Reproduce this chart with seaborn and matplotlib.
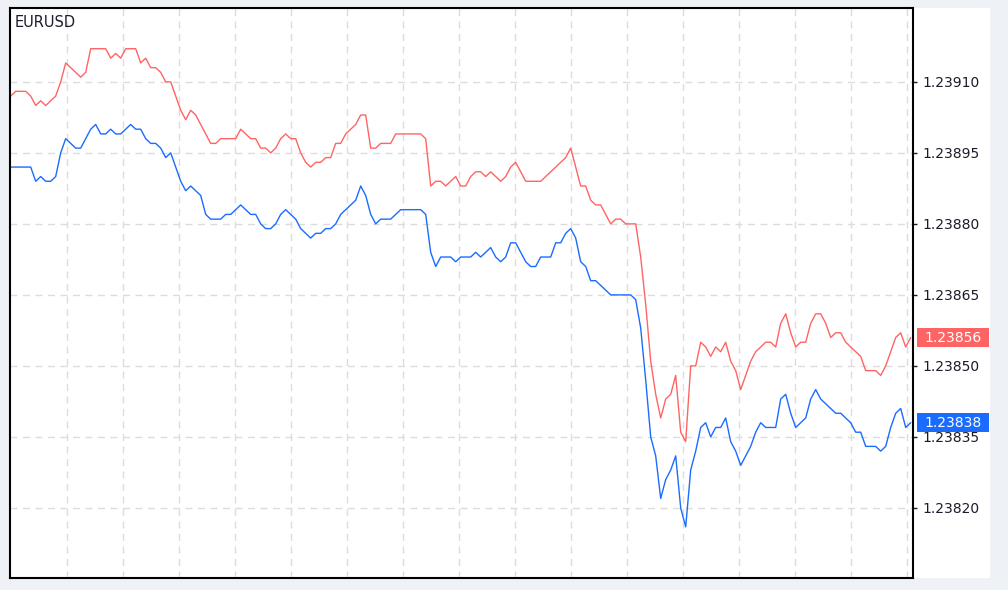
import matplotlib
matplotlib.use("Agg")
import matplotlib.pyplot as plt
import matplotlib.transforms as mtransforms
from matplotlib.patches import Rectangle
import numpy as np
import seaborn as sns

# =============================================================================
# Data: EURUSD tick chart, ask (red) and bid (blue) prices
# =============================================================================

SYMBOL = "EURUSD"

ask = [
    1.23907, 1.23908, 1.23908, 1.23908, 1.23907, 1.23905, 1.23906, 1.23905, 1.23906, 1.23907,
    1.23910, 1.23914, 1.23913, 1.23912, 1.23911, 1.23912, 1.23917, 1.23917, 1.23917, 1.23917,
    1.23915, 1.23916, 1.23915, 1.23917, 1.23917, 1.23917, 1.23914, 1.23915, 1.23913, 1.23913,
    1.23912,
    1.23910, 1.23910, 1.23907, 1.23904, 1.23902, 1.23904, 1.23903, 1.23901, 1.23899, 1.23897,
    1.23897, 1.23898, 1.23898, 1.23898, 1.23898, 1.23900, 1.23899, 1.23898, 1.23898, 1.23896,
    1.23896, 1.23895, 1.23896, 1.23898, 1.23899, 1.23898, 1.23898, 1.23895, 1.23893, 1.23892,
    1.23893, 1.23893, 1.23894, 1.23894, 1.23897, 1.23897, 1.23899, 1.23900, 1.23901, 1.23903,
    1.23903, 1.23896, 1.23896, 1.23897, 1.23897, 1.23897, 1.23899, 1.23899, 1.23899, 1.23899,
    1.23899, 1.23899, 1.23898, 1.23888, 1.23889, 1.23889, 1.23888, 1.23889, 1.23890, 1.23888,
    1.23888, 1.23890, 1.23891, 1.23891, 1.23890, 1.23891, 1.23890, 1.23889, 1.23890, 1.23892,
    1.23893, 1.23891, 1.23889, 1.23889, 1.23889, 1.23889, 1.23890, 1.23891, 1.23892, 1.23893,
    1.23894, 1.23896, 1.23892, 1.23888, 1.23888, 1.23885, 1.23884, 1.23884, 1.23882, 1.23880,
    1.23881, 1.23881, 1.23880, 1.23880, 1.23880, 1.23873, 1.23863, 1.23851, 1.23844, 1.23839,
    1.23843, 1.23844, 1.23848, 1.23836, 1.23834, 1.23850, 1.23850, 1.23855, 1.23854, 1.23852,
    1.23854, 1.23853, 1.23855, 1.23851, 1.23849, 1.23845, 1.23848, 1.23851, 1.23853, 1.23854,
    1.23855, 1.23855, 1.23854, 1.23859, 1.23861, 1.23857, 1.23854, 1.23855, 1.23855, 1.23859,
    1.23861, 1.23861, 1.23859, 1.23856, 1.23857, 1.23857, 1.23855, 1.23854, 1.23853, 1.23852,
    1.23849, 1.23849, 1.23849, 1.23848, 1.23850, 1.23853, 1.23856, 1.23857, 1.23854, 1.23856,
]

bid = [
    1.23892, 1.23892, 1.23892, 1.23892, 1.23892, 1.23889, 1.23890, 1.23889, 1.23889, 1.23890,
    1.23895, 1.23898, 1.23897, 1.23896, 1.23896, 1.23898, 1.23900, 1.23901, 1.23899, 1.23899,
    1.23900, 1.23899, 1.23899, 1.23900, 1.23901, 1.23900, 1.23900, 1.23898, 1.23897, 1.23897,
    1.23896,
    1.23894, 1.23895, 1.23892, 1.23889, 1.23887, 1.23888, 1.23887, 1.23886, 1.23882, 1.23881,
    1.23881, 1.23881, 1.23882, 1.23882, 1.23883, 1.23884, 1.23883, 1.23882, 1.23882, 1.23880,
    1.23879, 1.23879, 1.23880, 1.23882, 1.23883, 1.23882, 1.23881, 1.23879, 1.23878, 1.23877,
    1.23878, 1.23878, 1.23879, 1.23879, 1.23880, 1.23882, 1.23883, 1.23884, 1.23885, 1.23888,
    1.23886, 1.23882, 1.23880, 1.23881, 1.23881, 1.23881, 1.23882, 1.23883, 1.23883, 1.23883,
    1.23883, 1.23883, 1.23882, 1.23874, 1.23871, 1.23873, 1.23873, 1.23873, 1.23872, 1.23873,
    1.23873, 1.23873, 1.23874, 1.23873, 1.23874, 1.23875, 1.23873, 1.23872, 1.23873, 1.23876,
    1.23876, 1.23874, 1.23872, 1.23871, 1.23871, 1.23873, 1.23873, 1.23873, 1.23876, 1.23876,
    1.23878, 1.23879, 1.23877, 1.23872, 1.23871, 1.23868, 1.23868, 1.23867, 1.23866, 1.23865,
    1.23865, 1.23865, 1.23865, 1.23865, 1.23864, 1.23858, 1.23847, 1.23835, 1.23831, 1.23822,
    1.23826, 1.23828, 1.23831, 1.23820, 1.23816, 1.23828, 1.23832, 1.23837, 1.23838, 1.23835,
    1.23837, 1.23837, 1.23839, 1.23834, 1.23832, 1.23829, 1.23831, 1.23833, 1.23836, 1.23838,
    1.23837, 1.23837, 1.23837, 1.23843, 1.23844, 1.23840, 1.23837, 1.23838, 1.23839, 1.23843,
    1.23845, 1.23843, 1.23842, 1.23841, 1.23840, 1.23840, 1.23839, 1.23838, 1.23836, 1.23836,
    1.23833, 1.23833, 1.23833, 1.23832, 1.23833, 1.23837, 1.23840, 1.23841, 1.23837, 1.23838,
]

price_ticks = [1.23820, 1.23835, 1.23850, 1.23865, 1.23880, 1.23895, 1.23910]

ASK_COLOR = "#ff6464"
BID_COLOR = "#1a6cff"

# =============================================================================
# Figure
# =============================================================================

W, H = 1008, 590
sns.set_style("white")
plt.rcParams["font.family"] = ["DejaVu Sans"]

fig = plt.figure(figsize=(W / 100, H / 100), dpi=100, facecolor="#eef2f7")

# white chart window (plot + price scale), kept behind the axes
fig.patches.append(Rectangle((10 / W, 12 / H), 980 / W, 570 / H,
                             transform=fig.transFigure, facecolor="white",
                             edgecolor="none", zorder=-10))

ax = fig.add_axes([10 / W, 12 / H, 903 / W, 570 / H])
ax.set_zorder(1)
ax.set_facecolor("white")

ticks = np.arange(len(ask))
sns.lineplot(x=ticks, y=ask, color=ASK_COLOR, lw=1.0, ax=ax)
sns.lineplot(x=ticks, y=bid, color=BID_COLOR, lw=1.0, ax=ax)

ax.set_xlim(-0.14, len(ask) - 0.54)
ax.set_ylim(1.238052, 1.239256)

# grid
ax.set_xticks(np.arange(11.26, len(ask), 11.2))
ax.set_yticks(price_ticks)
ax.set_yticklabels([f"{p:.5f}" for p in price_ticks])
ax.grid(True, color="#dcdcdc", lw=1, ls=(0, (5, 4)))
ax.tick_params(axis="x", length=0, labelbottom=False)
ax.yaxis.tick_right()
ax.tick_params(axis="y", direction="out", length=3, width=1, pad=4,
               labelsize=10, colors="#1b1b2b")

for sp in ax.spines.values():
    sp.set_color("black")
    sp.set_linewidth(1.5)

ax.text(5 / 903, 1 - 7 / 570, SYMBOL, transform=ax.transAxes,
        ha="left", va="top", fontsize=10.5, color="#1b1b2b")

# current price boxes on the price scale
trans = mtransforms.blended_transform_factory(ax.transAxes, ax.transData)
px = (ax.get_ylim()[1] - ax.get_ylim()[0]) / 570
for series, color in [(ask, ASK_COLOR), (bid, BID_COLOR)]:
    last = series[-1]
    ax.add_patch(Rectangle((1 + 4 / 903, last - 9.5 * px), 72 / 903, 19 * px,
                           transform=trans, facecolor=color, edgecolor="none",
                           clip_on=False, zorder=6))
    ax.text(1 + 40 / 903, last, f"{last:.5f}", transform=trans, ha="center",
            va="center", fontsize=10, color="white", zorder=7, clip_on=False)

fig.savefig("out.png", dpi=100, facecolor=fig.get_facecolor())
